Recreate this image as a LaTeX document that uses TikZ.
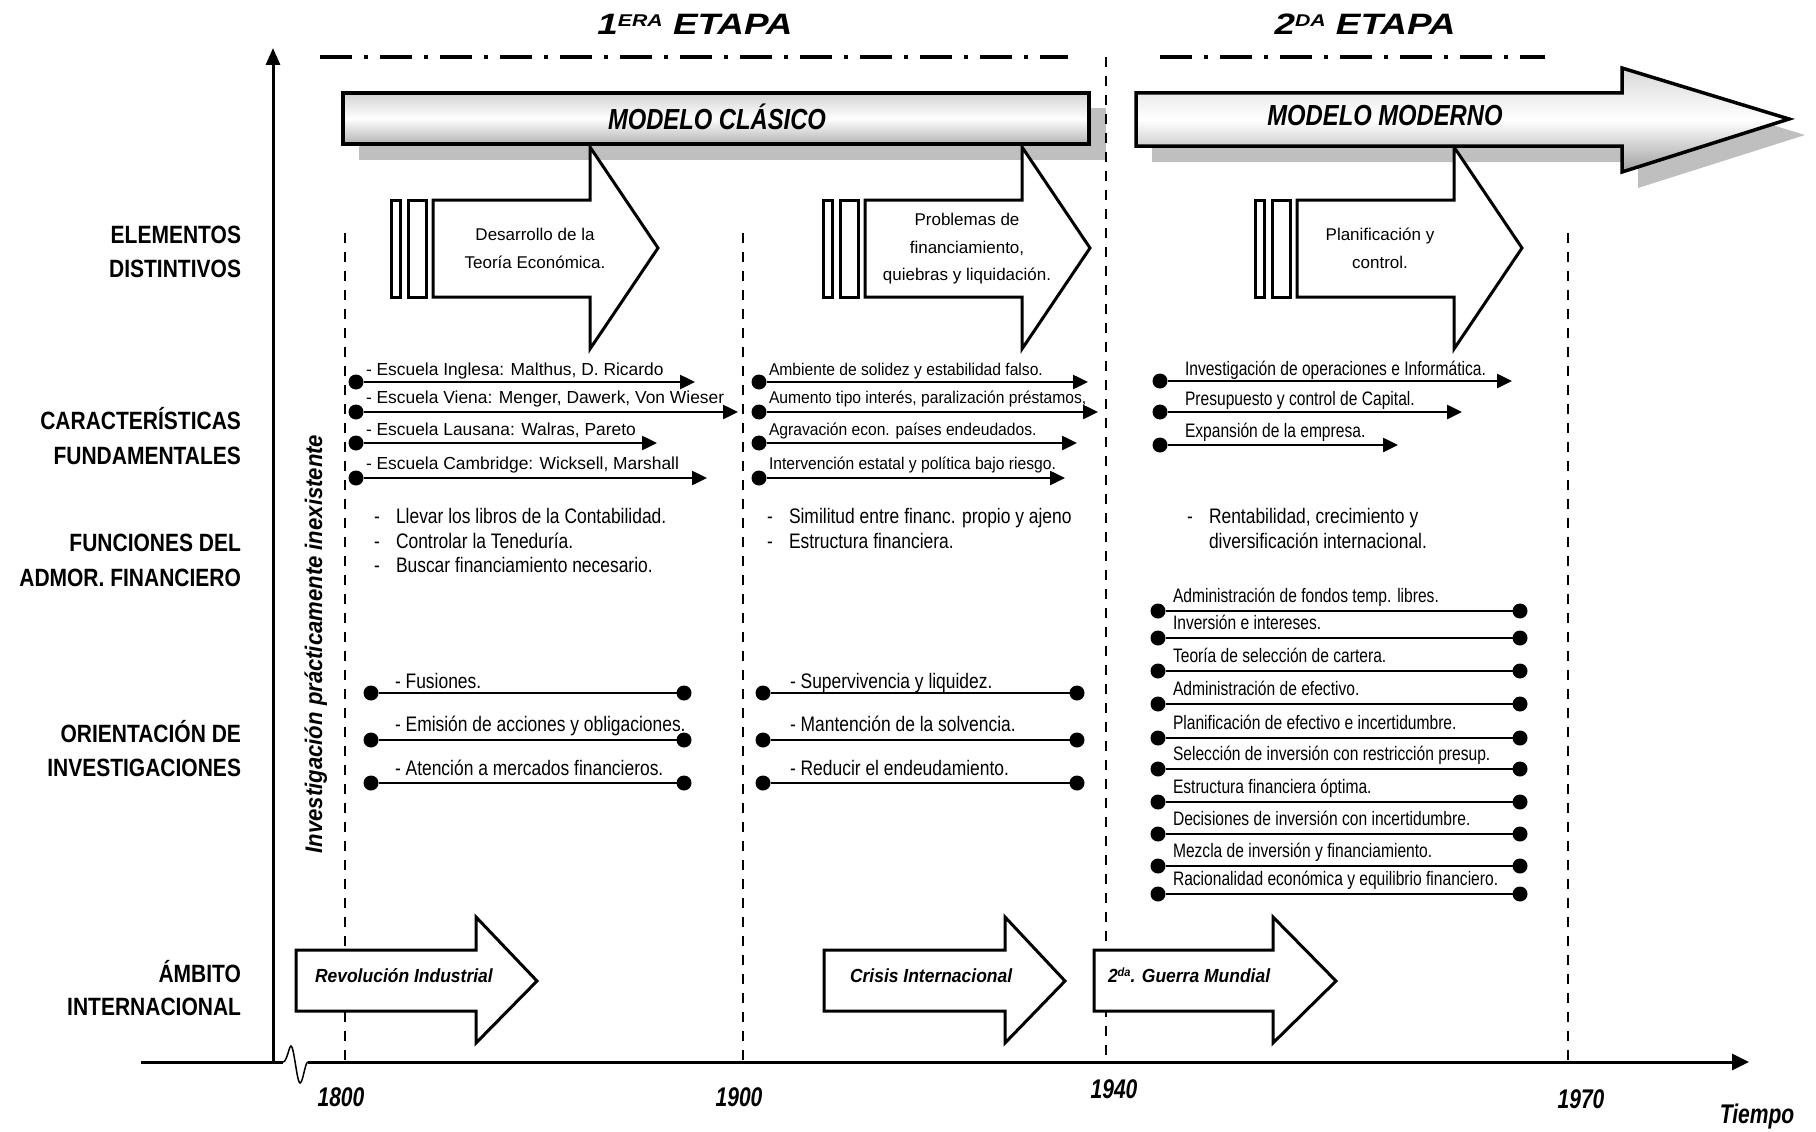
\documentclass[tikz,border=0pt]{standalone}
\usepackage{fontspec}
\setmainfont{Liberation Sans}
\newfontfamily\fN{Liberation Sans}
\newfontfamily\fNa[FakeStretch=0.83]{Liberation Sans}
\newfontfamily\fNb[FakeStretch=0.92]{Liberation Sans}
\newfontfamily\fNc[FakeStretch=0.80]{Liberation Sans}
\newfontfamily\fLab[FakeStretch=0.84]{Liberation Sans}
\newfontfamily\fMod[FakeStretch=0.82]{Liberation Sans}
\newfontfamily\fTit[FakeStretch=1.25]{Liberation Sans}
\newfontfamily\fYr[FakeStretch=0.78]{Liberation Sans}
\newfontfamily\fAmb[FakeStretch=0.92]{Liberation Sans}
\newfontfamily\fVert[FakeStretch=0.92]{Liberation Sans}
\usetikzlibrary{arrows.meta}
\newcommand\myfs[1]{\fontsize{#1}{#1}\selectfont}
\newcommand\dsh{\makebox[22pt][l]{-}}
\tikzset{
  every node/.style={inner sep=0pt, outer sep=0pt},
  dot/.style={circle, fill=black, inner sep=0pt, minimum size=15pt},
  conn/.style={line width=2.5pt, -{Triangle[length=15pt,width=14pt]}},
  dline/.style={line width=2.5pt},
  vdash/.style={line width=1.5pt, dash pattern=on 10pt off 9pt},
  ddot/.style={line width=3.5pt, dash pattern=on 32pt off 12pt on 4pt off 12pt},
  bigarrow/.style={draw, line width=3pt, fill=white, line join=miter},
  axisline/.style={line width=3pt},
  shadowc/.style={fill=black!25},
  lab/.style={anchor=base east, font=\fLab\bfseries\myfs{25}},
  tA/.style={anchor=base west, font=\fN\myfs{17.4}},
  tB/.style={anchor=base west, font=\fNb\myfs{17}},
  tC/.style={anchor=base west, font=\fNc\myfs{19.5}},
  tF/.style={anchor=base west, font=\fNa\myfs{21}},
  tO/.style={anchor=base west, font=\fNa\myfs{21}},
  tP/.style={anchor=base west, font=\fNc\myfs{19.5}},
  tE/.style={anchor=base, font=\fN\myfs{17}},
  tAmb/.style={anchor=base west, font=\fAmb\bfseries\itshape\myfs{19}},
  yr/.style={anchor=base, font=\fYr\bfseries\itshape\myfs{27}},
  model/.style={anchor=base, font=\fMod\bfseries\itshape\myfs{29}},
  ttl/.style={anchor=base, font=\fTit\bfseries\itshape\myfs{29.5}},
}
\begin{document}
\begin{tikzpicture}[x=1pt,y=-1pt]
\useasboundingbox (0,0) rectangle (1816,1132);

% ---------- shadows
\fill[shadowc] (359,108) rectangle (1106,160);
\fill[shadowc] (1152,109) -- (1638,109) -- (1638,84) -- (1805,135) -- (1638,188) -- (1638,162) -- (1152,162) -- cycle;

% ---------- dashed verticals
\coordinate (v1t) at (345,233);  \coordinate (v1b) at (345,1062);
\coordinate (v2t) at (743,233);  \coordinate (v2b) at (743,1062);
\coordinate (v3t) at (1106,57);  \coordinate (v3b) at (1106,1062);
\coordinate (v4t) at (1568,233); \coordinate (v4b) at (1568,1062);
\draw[vdash] (v1t) -- (v1b);
\draw[vdash] (v2t) -- (v2b);
\draw[vdash] (v3t) -- (v3b);
\draw[vdash] (v4t) -- (v4b);

% ---------- dash-dot lines and titles
\coordinate (dd1a) at (320,57);  \coordinate (dd1b) at (1068,57);
\coordinate (dd2a) at (1160,57); \coordinate (dd2b) at (1545,57);
\draw[ddot] (dd1a) -- (dd1b);
\draw[ddot] (dd2a) -- (dd2b);
\node[ttl] (title1) at (695,35) {1\raisebox{9pt}{\myfs{17}ERA} ETAPA};
\node[ttl] (title2) at (1365,35) {2\raisebox{9pt}{\myfs{17}DA} ETAPA};

% ---------- element arrows
\foreach \dx in {0,432,864} {
  \draw[bigarrow] ({433+\dx},200) -- ({590+\dx},200) -- ({590+\dx},147) -- ({658+\dx},248)
     -- ({590+\dx},349) -- ({590+\dx},297) -- ({433+\dx},297) -- cycle;
  \draw[bigarrow] ({391+\dx},200) rectangle ({400+\dx},297);
  \draw[bigarrow] ({408+\dx},200) rectangle ({426+\dx},297);
}
\node[tE] (e1a) at (535,240) {Desarrollo de la};
\node[tE] (e1b) at (535,268) {Teoría Económica.};
\node[tE] (e2a) at (967,225) {Problemas de};
\node[tE] (e2b) at (967,253) {financiamiento,};
\node[tE] (e2c) at (967,280) {quiebras y liquidación.};
\node[tE] (e3a) at (1380,240) {Planificación y};
\node[tE] (e3b) at (1380,268) {control.};

% ---------- model bars
\draw[line width=3.5pt, top color=gray!35, bottom color=gray!60, middle color=white] (343,93) rectangle (1089,144);
\node[model] (mc) at (717,129) {MODELO CLÁSICO};
\draw[line width=3.5pt, line join=miter, top color=gray!30, bottom color=gray!75, middle color=white]
  (1136,93) -- (1622,93) -- (1622,68) -- (1789,119) -- (1622,172) -- (1622,146) -- (1136,146) -- cycle;
\node[model] (mm) at (1385,125) {MODELO MODERNO};

% ---------- axes
\coordinate (O) at (273,1062);
\coordinate (ytop) at (273,48);
\coordinate (xl) at (141,1062);
\coordinate (sq1) at (283,1062);
\coordinate (sq2) at (308,1062);
\coordinate (xr) at (1749,1062);
\draw[axisline, -{Triangle[length=17pt,width=14pt]}] (O) -- (ytop);
\draw[axisline] (xl) -- (sq1);
\draw[line width=1.5pt] (sq1) .. controls (287,1062) and (289,1046) .. (291,1046)
   .. controls (294,1046) and (297,1083) .. (300,1083)
   .. controls (303,1083) and (305,1062) .. (sq2);
\draw[axisline, -{Triangle[length=17pt,width=16pt]}] (sq2) -- (xr);

\node[yr] (y1800) at (341,1106) {1800};
\node[yr] (y1900) at (739,1106) {1900};
\node[yr] (y1940) at (1114,1098) {1940};
\node[yr] (y1970) at (1581,1108) {1970};
\node[yr] (tiempo) at (1757,1123) {Tiempo};

% ---------- left labels
\node[lab] (l1a) at (241,243) {ELEMENTOS};
\node[lab] (l1b) at (241,277) {DISTINTIVOS};
\node[lab] (l2a) at (241,429) {CARACTERÍSTICAS};
\node[lab] (l2b) at (241,464) {FUNDAMENTALES};
\node[lab] (l3a) at (241,551) {FUNCIONES DEL};
\node[lab] (l3b) at (241,586) {ADMOR. FINANCIERO};
\node[lab] (l4a) at (241,742) {ORIENTACIÓN DE};
\node[lab] (l4b) at (241,776) {INVESTIGACIONES};
\node[lab] (l5a) at (241,982) {ÁMBITO};
\node[lab] (l5b) at (241,1015) {INTERNACIONAL};

% ---------- vertical text
\node[rotate=90, anchor=base, font=\fVert\bfseries\itshape\myfs{24}] (vert) at (322,644)
  {Investigación prácticamente inexistente};

% ---------- caracteristicas period 1
\node[dot] (c1ac) at (356,382) {}; \coordinate (c1at) at (695,382); \draw[conn] (c1ac) -- (c1at);
\node[dot] (c1bc) at (356,412) {}; \coordinate (c1bt) at (738,412); \draw[conn] (c1bc) -- (c1bt);
\node[dot] (c1cc) at (356,443) {}; \coordinate (c1ct) at (657,443); \draw[conn] (c1cc) -- (c1ct);
\node[dot] (c1dc) at (356,478) {}; \coordinate (c1dt) at (707,478); \draw[conn] (c1dc) -- (c1dt);
\node[tA] (c1al) at (366,375) {- Escuela Inglesa: Malthus, D. Ricardo};
\node[tA] (c1bl) at (366,403) {- Escuela Viena: Menger, Dawerk, Von Wieser};
\node[tA] (c1cl) at (366,435) {- Escuela Lausana: Walras, Pareto};
\node[tA] (c1dl) at (366,469) {- Escuela Cambridge: Wicksell, Marshall};

% ---------- caracteristicas period 2
\node[dot] (c2ac) at (759,382) {}; \coordinate (c2at) at (1088,382); \draw[conn] (c2ac) -- (c2at);
\node[dot] (c2bc) at (759,412) {}; \coordinate (c2bt) at (1098,412); \draw[conn] (c2bc) -- (c2bt);
\node[dot] (c2cc) at (759,443) {}; \coordinate (c2ct) at (1077,443); \draw[conn] (c2cc) -- (c2ct);
\node[dot] (c2dc) at (759,478) {}; \coordinate (c2dt) at (1065,478); \draw[conn] (c2dc) -- (c2dt);
\node[tB] (c2al) at (769,375) {Ambiente de solidez y estabilidad falso.};
\node[tB] (c2bl) at (769,403) {Aumento tipo interés, paralización préstamos,};
\node[tB] (c2cl) at (769,435) {Agravación econ. países endeudados.};
\node[tB] (c2dl) at (769,469) {Intervención estatal y política bajo riesgo.};

% ---------- caracteristicas period 3
\node[dot] (c3ac) at (1160,381) {}; \coordinate (c3at) at (1512,381); \draw[conn] (c3ac) -- (c3at);
\node[dot] (c3bc) at (1160,412) {}; \coordinate (c3bt) at (1462,412); \draw[conn] (c3bc) -- (c3bt);
\node[dot] (c3cc) at (1160,445) {}; \coordinate (c3ct) at (1398,445); \draw[conn] (c3cc) -- (c3ct);
\node[tC] (c3al) at (1185,375) {Investigación de operaciones e Informática.};
\node[tC] (c3bl) at (1185,405) {Presupuesto y control de Capital.};
\node[tC] (c3cl) at (1185,437) {Expansión de la empresa.};

% ---------- funciones
\node[tF] (f1a) at (374,523) {\dsh Llevar los libros de la Contabilidad.};
\node[tF] (f1b) at (374,548) {\dsh Controlar la Teneduría.};
\node[tF] (f1c) at (374,572) {\dsh Buscar financiamiento necesario.};
\node[tF] (f2a) at (767,523) {\dsh Similitud entre financ. propio y ajeno};
\node[tF] (f2b) at (767,548) {\dsh Estructura financiera.};
\node[tF] (f3a) at (1187,523) {\dsh Rentabilidad, crecimiento y};
\node[tF] (f3b) at (1209,548) {diversificación internacional.};

% ---------- orientacion period 1
\node[dot] (o1aL) at (371,693) {}; \node[dot] (o1aR) at (684,693) {}; \draw[dline] (o1aL) -- (o1aR);
\node[dot] (o1bL) at (371,740) {}; \node[dot] (o1bR) at (684,740) {}; \draw[dline] (o1bL) -- (o1bR);
\node[dot] (o1cL) at (371,783) {}; \node[dot] (o1cR) at (684,783) {}; \draw[dline] (o1cL) -- (o1cR);
\node[tO] (o1at) at (395,688) {- Fusiones.};
\node[tO] (o1bt) at (395,731) {- Emisión de acciones y obligaciones.};
\node[tO] (o1ct) at (395,775) {- Atención a mercados financieros.};

% ---------- orientacion period 2
\node[dot] (o2aL) at (763,693) {}; \node[dot] (o2aR) at (1077,693) {}; \draw[dline] (o2aL) -- (o2aR);
\node[dot] (o2bL) at (763,740) {}; \node[dot] (o2bR) at (1077,740) {}; \draw[dline] (o2bL) -- (o2bR);
\node[dot] (o2cL) at (763,783) {}; \node[dot] (o2cR) at (1077,783) {}; \draw[dline] (o2cL) -- (o2cR);
\node[tO] (o2at) at (790,688) {- Supervivencia y liquidez.};
\node[tO] (o2bt) at (790,731) {- Mantención de la solvencia.};
\node[tO] (o2ct) at (790,775) {- Reducir el endeudamiento.};

% ---------- orientacion period 3
\foreach \i/\yy/\tx in {1/611/Administración de fondos temp. libres.,
                        2/638/Inversión e intereses.,
                        3/671/Teoría de selección de cartera.,
                        4/704/Administración de efectivo.,
                        5/738/Planificación de efectivo e incertidumbre.,
                        6/769/Selección de inversión con restricción presup.,
                        7/802/Estructura financiera óptima.,
                        8/834/Decisiones de inversión con incertidumbre.,
                        9/866/Mezcla de inversión y financiamiento.,
                        10/894/Racionalidad económica y equilibrio financiero.} {
  \node[dot] (o3L\i) at (1158,\yy) {};
  \node[dot] (o3R\i) at (1520,\yy) {};
  \draw[dline] (o3L\i) -- (o3R\i);
  \node[tP] (o3t\i) at (1173,{\yy-9}) {\tx};
}

% ---------- ambito arrows
\foreach \n/\l/\b/\t in {a/296/476/537, b/824/1005/1065, c/1094/1273/1336} {
  \draw[bigarrow] (\l,950) -- (\b,950) -- (\b,917) -- (\t,981) -- (\b,1043) -- (\b,1011) -- (\l,1011) -- cycle;
}
\node[tAmb] (amb1) at (315,982) {Revolución Industrial};
\node[tAmb] (amb2) at (850,982) {Crisis Internacional};
\node[tAmb] (amb3) at (1108,982) {2\raisebox{6pt}{\myfs{12}da}. Guerra Mundial};

\end{tikzpicture}
\end{document}
